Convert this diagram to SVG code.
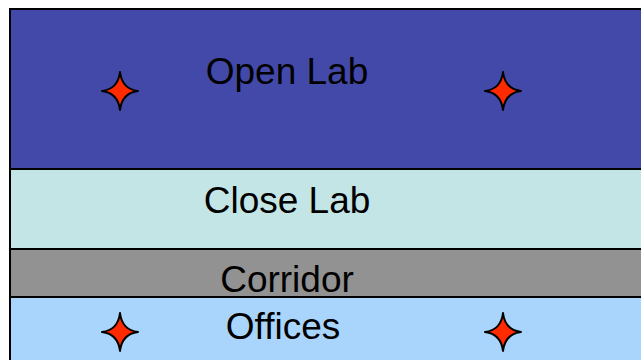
<svg xmlns="http://www.w3.org/2000/svg" width="641" height="360" viewBox="0 0 641 360">
<defs>
<style>
.zone{stroke:#000;stroke-width:2}
.lbl{font-family:"Liberation Sans",Arial,sans-serif;font-size:37px;fill:#000;text-anchor:middle}
.star{fill:#FF2A00;stroke:#000;stroke-width:2;stroke-linejoin:round}
</style>
<path id="star" d="M0,-19 Q2,-2 18,0 Q2,2 0,19 Q-2,2 -18,0 Q-2,-2 0,-19Z"/>
</defs>
<rect width="641" height="360" fill="#fff"/>
<g id="open-lab">
<rect class="zone" x="10" y="9" width="660" height="160" fill="#4349A8"/>
<text class="lbl" x="287" y="84">Open Lab</text>
<use href="#star" class="star" x="120" y="91"/>
<use href="#star" class="star" x="503" y="91"/>
</g>
<g id="close-lab">
<rect class="zone" x="10" y="169" width="660" height="80" fill="#C3E5E6"/>
<text class="lbl" x="287" y="213">Close Lab</text>
</g>
<g id="corridor">
<rect class="zone" x="10" y="249" width="660" height="48" fill="#929292"/>
<text class="lbl" x="287" y="292">Corridor</text>
</g>
<g id="offices">
<rect class="zone" x="10" y="297" width="660" height="80" fill="#A9D5FC"/>
<text class="lbl" x="283" y="339">Offices</text>
<use href="#star" class="star" x="120" y="332"/>
<use href="#star" class="star" x="503" y="332"/>
</g>
<g id="connectors"/>
</svg>
